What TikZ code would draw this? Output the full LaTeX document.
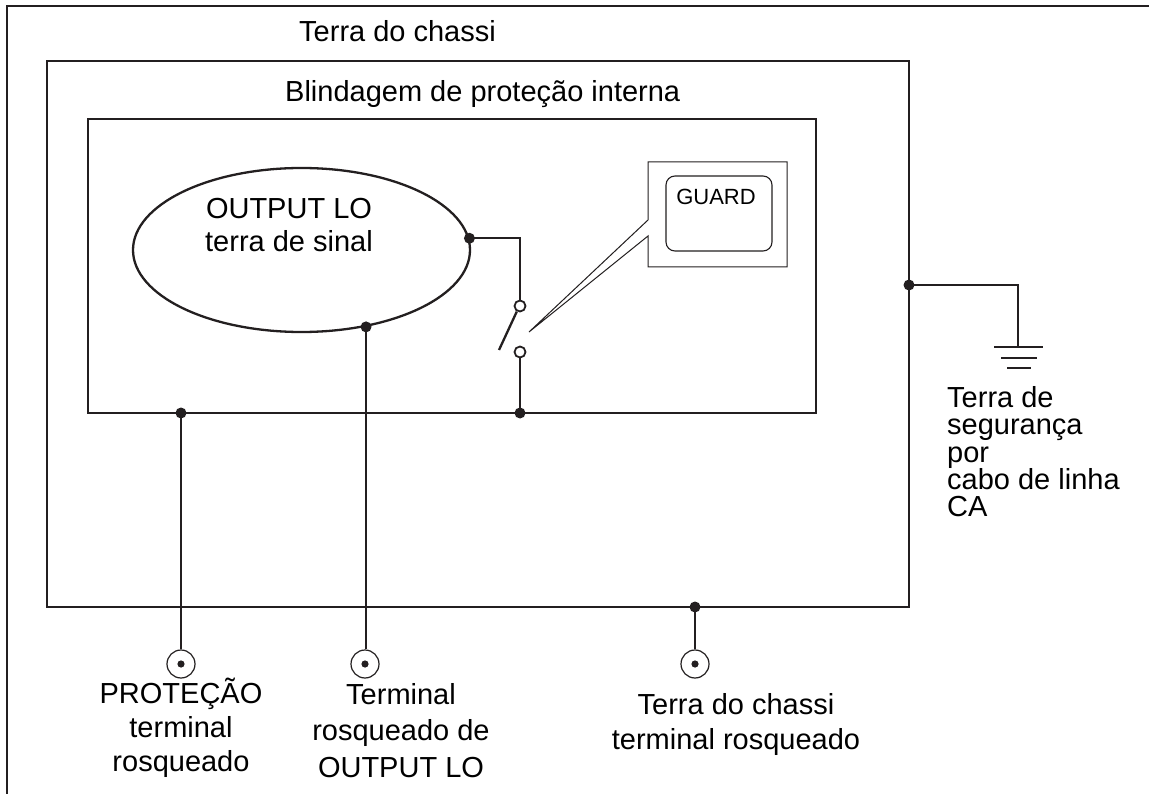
\documentclass[tikz,border=0pt]{standalone}
\usepackage{fontspec}
\setmainfont{Liberation Sans}
\usetikzlibrary{shapes.geometric}
\definecolor{ink}{HTML}{231F20}
\begin{document}
\begin{tikzpicture}[x=1pt,y=-1pt,
  wire/.style={line width=2.3pt, draw=ink},
  jdot/.style={circle, fill=ink, inner sep=0pt, minimum size=11pt},
  termnode/.style={circle, draw=ink, line width=1.2pt, inner sep=0pt, minimum size=28pt},
  swnode/.style={circle, draw=ink, line width=1.8pt, fill=white, inner sep=0pt, minimum size=11pt},
  txt/.style={font=\fontsize{29}{33}\selectfont, inner sep=0pt, text=black, anchor=base},
  gtxt/.style={font=\fontsize{22}{26}\selectfont, inner sep=0pt, text=black, anchor=base},
  thinline/.style={line width=1pt, draw=ink},
]
\useasboundingbox (0,0) rectangle (1149,794);
\fill[white] (0,0) rectangle (1149,794);
\draw[line width=2pt, draw=ink] (7,794) -- (7,6) -- (1149,6);

% boxes
\draw[wire] (47,61) rectangle (909,607);
\draw[wire] (88,119) rectangle (816,413);

\node[txt, anchor=base west] (tc) at (299,42) {Terra do chassi};
\node[txt, anchor=base west] (bl) at (285,102) {Blindagem de proteção interna};

% ellipse
\node[ellipse, draw=ink, line width=2.3pt, minimum width=337pt, minimum height=164pt, inner sep=0pt] (lo) at (301.5,250) {};
\node[txt] (lo1) at (289,219) {OUTPUT LO};
\node[txt] (lo2) at (289,252) {terra de sinal};

% junctions
\coordinate (jR) at (lo.4);
\coordinate (jB) at (lo.-50);
\coordinate (jS) at (520,413);
\coordinate (jP) at (181,413);
\coordinate (jC) at (909,285);
\coordinate (jT) at (695,607);
\coordinate (gnd) at (1018,347);

% switch
\node[swnode] (sw1) at (520,306) {};
\node[swnode] (sw2) at (520,352) {};
\draw[wire] (jR) -| (sw1.north);
\draw[wire] (sw2.south) -- (jS);
\coordinate (blade) at (499,350);
\draw[wire] (blade) -- (sw1.240);

% guard callout
\draw[thinline] (648,162) -- (787,162) -- (787,267) -- (648,267) -- (648,236) -- (529,332) -- (648,220) -- cycle;
\draw[draw=ink, line width=1.1pt, rounded corners=9pt] (666,176) rectangle (772,251);
\node[gtxt] (guard) at (716,205) {GUARD};

% ground
\draw[wire] (jC) -| (gnd);
\draw[wire] (994,347) -- (1043,347);
\draw[wire] (1001,358) -- (1037,358);
\draw[wire] (1007,368) -- (1031,368);

% terminals
\node[termnode] (t1) at (181,664) {};
\node[termnode] (t2) at (365,664) {};
\node[termnode] (t3) at (695,664) {};
\foreach \t in {t1,t2,t3} {\fill[ink] (\t) circle (3.6pt);}
\draw[wire] (jP) -- (t1.north);
\draw[wire] (jB) -- (jB |- t2.north);
\draw[wire] (jT) -- (t3.north);

% dots
\foreach \j in {jR,jB,jS,jP,jC,jT} {\node[jdot] at (\j) {};}

% labels
\node[txt, anchor=base west] (r1) at (947,407) {Terra de};
\node[txt, anchor=base west] (r2) at (947,434) {segurança};
\node[txt, anchor=base west] (r3) at (947,462) {por};
\node[txt, anchor=base west] (r4) at (947,489) {cabo de linha};
\node[txt, anchor=base west] (r5) at (947,516) {CA};

\node[txt] (a1) at (181,703) {PROTEÇÃO};
\node[txt] (a2) at (181,737) {terminal};
\node[txt] (a3) at (181,771) {rosqueado};

\node[txt] (b1) at (401,704) {Terminal};
\node[txt] (b2) at (401,740) {rosqueado de};
\node[txt] (b3) at (401,777) {OUTPUT LO};

\node[txt] (c1) at (736,714) {Terra do chassi};
\node[txt] (c2) at (736,749) {terminal rosqueado};
\end{tikzpicture}
\end{document}
